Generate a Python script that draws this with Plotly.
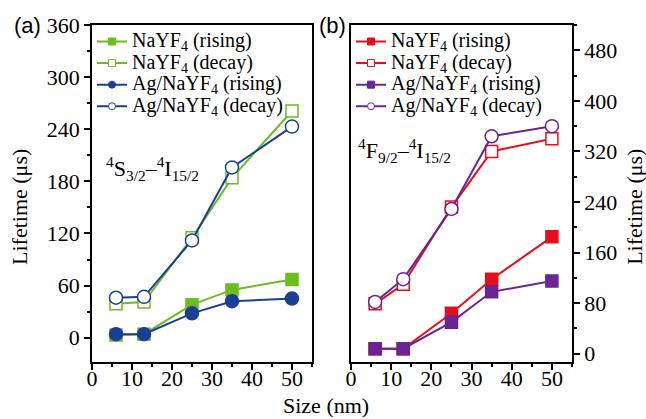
import plotly.graph_objects as go

size_nm = [6, 13, 25, 35, 50]

# Panel (a): 4S3/2 -> 4I15/2
a_nayf4_rising = [3, 4, 38, 55, 67]
a_nayf4_decay = [39, 41, 115, 184, 261]
a_ag_rising = [4, 4, 28, 42, 45]
a_ag_decay = [46, 47, 112, 196, 243]

# Panel (b): 4F9/2 -> 4I15/2
b_nayf4_rising = [8, 8, 64, 118, 185]
b_nayf4_decay = [79, 110, 232, 320, 340]
b_ag_rising = [8, 8, 50, 98, 115]
b_ag_decay = [82, 118, 229, 344, 360]

x_ticks = [0, 10, 20, 30, 40, 50]
ya_ticks = [0, 60, 120, 180, 240, 300, 360]
yb_ticks = [0, 80, 160, 240, 320, 400, 480]

GREEN = "#6cbd1f"
BLUE = "#1c3f96"
RED = "#e3101b"
PURPLE = "#6a2494"

FONT = "Liberation Serif"
FS = 22
LEG_FS = 20

labels = ["NaYF<sub>4</sub> (rising)", "NaYF<sub>4</sub> (decay)",
          "Ag/NaYF<sub>4</sub> (rising)", "Ag/NaYF<sub>4</sub> (decay)"]

fig = go.Figure()


def add_series(x, y, color, symbol, filled, size, xa, ya):
    fig.add_trace(go.Scatter(
        x=x, y=y, mode="lines+markers", xaxis=xa, yaxis=ya, showlegend=False,
        line=dict(color=color, width=2),
        marker=dict(symbol=symbol, size=size,
                    color=color if filled else "white",
                    line=dict(color=color, width=1.5)),
    ))


def add_legend_entry(name, color, symbol, filled, legend):
    fig.add_trace(go.Scatter(
        x=[None], y=[None], mode="lines+markers",
        name=f"<span style='font-size:{LEG_FS}px'>{name}</span>",
        legend=legend, showlegend=True,
        line=dict(color=color, width=2),
        marker=dict(symbol=symbol, size=7,
                    color=color if filled else "white",
                    line=dict(color=color, width=1)),
    ))


# Panel (a)
add_series(size_nm, a_nayf4_rising, GREEN, "square", True, 12, "x", "y")
add_series(size_nm, a_nayf4_decay, GREEN, "square", False, 12, "x", "y")
add_series(size_nm, a_ag_rising, BLUE, "circle", True, 13, "x", "y")
add_series(size_nm, a_ag_decay, BLUE, "circle", False, 13, "x", "y")
# Panel (b)
add_series(size_nm, b_nayf4_rising, RED, "square", True, 12, "x2", "y2")
add_series(size_nm, b_nayf4_decay, RED, "square", False, 12, "x2", "y2")
add_series(size_nm, b_ag_rising, PURPLE, "square", True, 12, "x2", "y2")
add_series(size_nm, b_ag_decay, PURPLE, "circle", False, 13, "x2", "y2")

add_legend_entry(labels[0], GREEN, "square", True, "legend")
add_legend_entry(labels[1], GREEN, "square", False, "legend")
add_legend_entry(labels[2], BLUE, "circle", True, "legend")
add_legend_entry(labels[3], BLUE, "circle", False, "legend")
add_legend_entry(labels[0], RED, "square", True, "legend2")
add_legend_entry(labels[1], RED, "square", False, "legend2")
add_legend_entry(labels[2], PURPLE, "square", True, "legend2")
add_legend_entry(labels[3], PURPLE, "circle", False, "legend2")

axis_common = dict(
    showline=True, linecolor="black", linewidth=1.5, mirror=True,
    ticks="outside", ticklen=6, tickwidth=1.5, tickcolor="black",
    showgrid=False, zeroline=False,
    tickfont=dict(family=FONT, size=FS, color="black"),
)

xa_dom = [0.0, 0.4583]
xb_dom = [0.5396, 1.0]

fig.update_layout(
    width=646, height=419,
    margin=dict(l=92, r=74, t=25, b=57),
    paper_bgcolor="white", plot_bgcolor="white",
    font=dict(family=FONT, size=FS, color="black"),
    xaxis=dict(domain=xa_dom, range=[0, 55], tickvals=x_ticks, anchor="y",
               ticklabelposition="outside", ticklabelstandoff=-10,
               minor=dict(dtick=5, tick0=0, ticks="outside", ticklen=3, tickcolor="black"),
               **axis_common),
    yaxis=dict(domain=[0, 1], range=[-28, 360], tickvals=ya_ticks, anchor="x",
               minor=dict(dtick=30, tick0=0, ticks="outside", ticklen=3, tickcolor="black"),
               **axis_common),
    xaxis2=dict(domain=xb_dom, range=[0, 55], tickvals=x_ticks, anchor="y2",
                ticklabelposition="outside", ticklabelstandoff=-10,
                minor=dict(dtick=5, tick0=0, ticks="outside", ticklen=3, tickcolor="black"),
                **axis_common),
    yaxis2=dict(domain=[0, 1], range=[-13, 520], tickvals=yb_ticks, anchor="x2", side="right",
                minor=dict(dtick=40, tick0=0, ticks="outside", ticklen=3, tickcolor="black"),
                **axis_common),
    legend=dict(x=0.0, y=0.998, xanchor="left", yanchor="top", bgcolor="rgba(0,0,0,0)",
                font=dict(family=FONT, size=14.3, color="black"), tracegroupgap=0),
    legend2=dict(x=xb_dom[0], y=0.998, xanchor="left", yanchor="top", bgcolor="rgba(0,0,0,0)",
                 font=dict(family=FONT, size=14.3, color="black"), tracegroupgap=0),
)

ann = [
    dict(text="(a)", x=-0.135, y=1.0, font=dict(family="Liberation Sans", size=22)),
    dict(text="(b)", x=0.5, y=1.0, font=dict(family="Liberation Sans", size=22)),
    dict(text="<sup>4</sup>S<sub>3/2</sub>–<sup>4</sup>I<sub>15/2</sub>", x=0.125, y=0.573,
         font=dict(family=FONT, size=FS)),
    dict(text="<sup>4</sup>F<sub>9/2</sub>–<sup>4</sup>I<sub>15/2</sub>", x=0.652, y=0.627,
         font=dict(family=FONT, size=FS)),
    dict(text="Size (nm)", x=0.4875, y=-0.128, font=dict(family=FONT, size=FS)),
    dict(text="Lifetime (μs)", x=-0.15, y=0.46, textangle=-90, font=dict(family=FONT, size=FS)),
    dict(text="Lifetime (μs)", x=1.131, y=0.46, textangle=-90, font=dict(family=FONT, size=FS)),
]
for a in ann:
    fig.add_annotation(xref="paper", yref="paper", showarrow=False,
                       xanchor="center", yanchor="middle", **a)

fig.write_html("out.html", config={"displayModeBar": False},
               post_script="document.body.style.margin='0';document.body.style.overflow='hidden';")
